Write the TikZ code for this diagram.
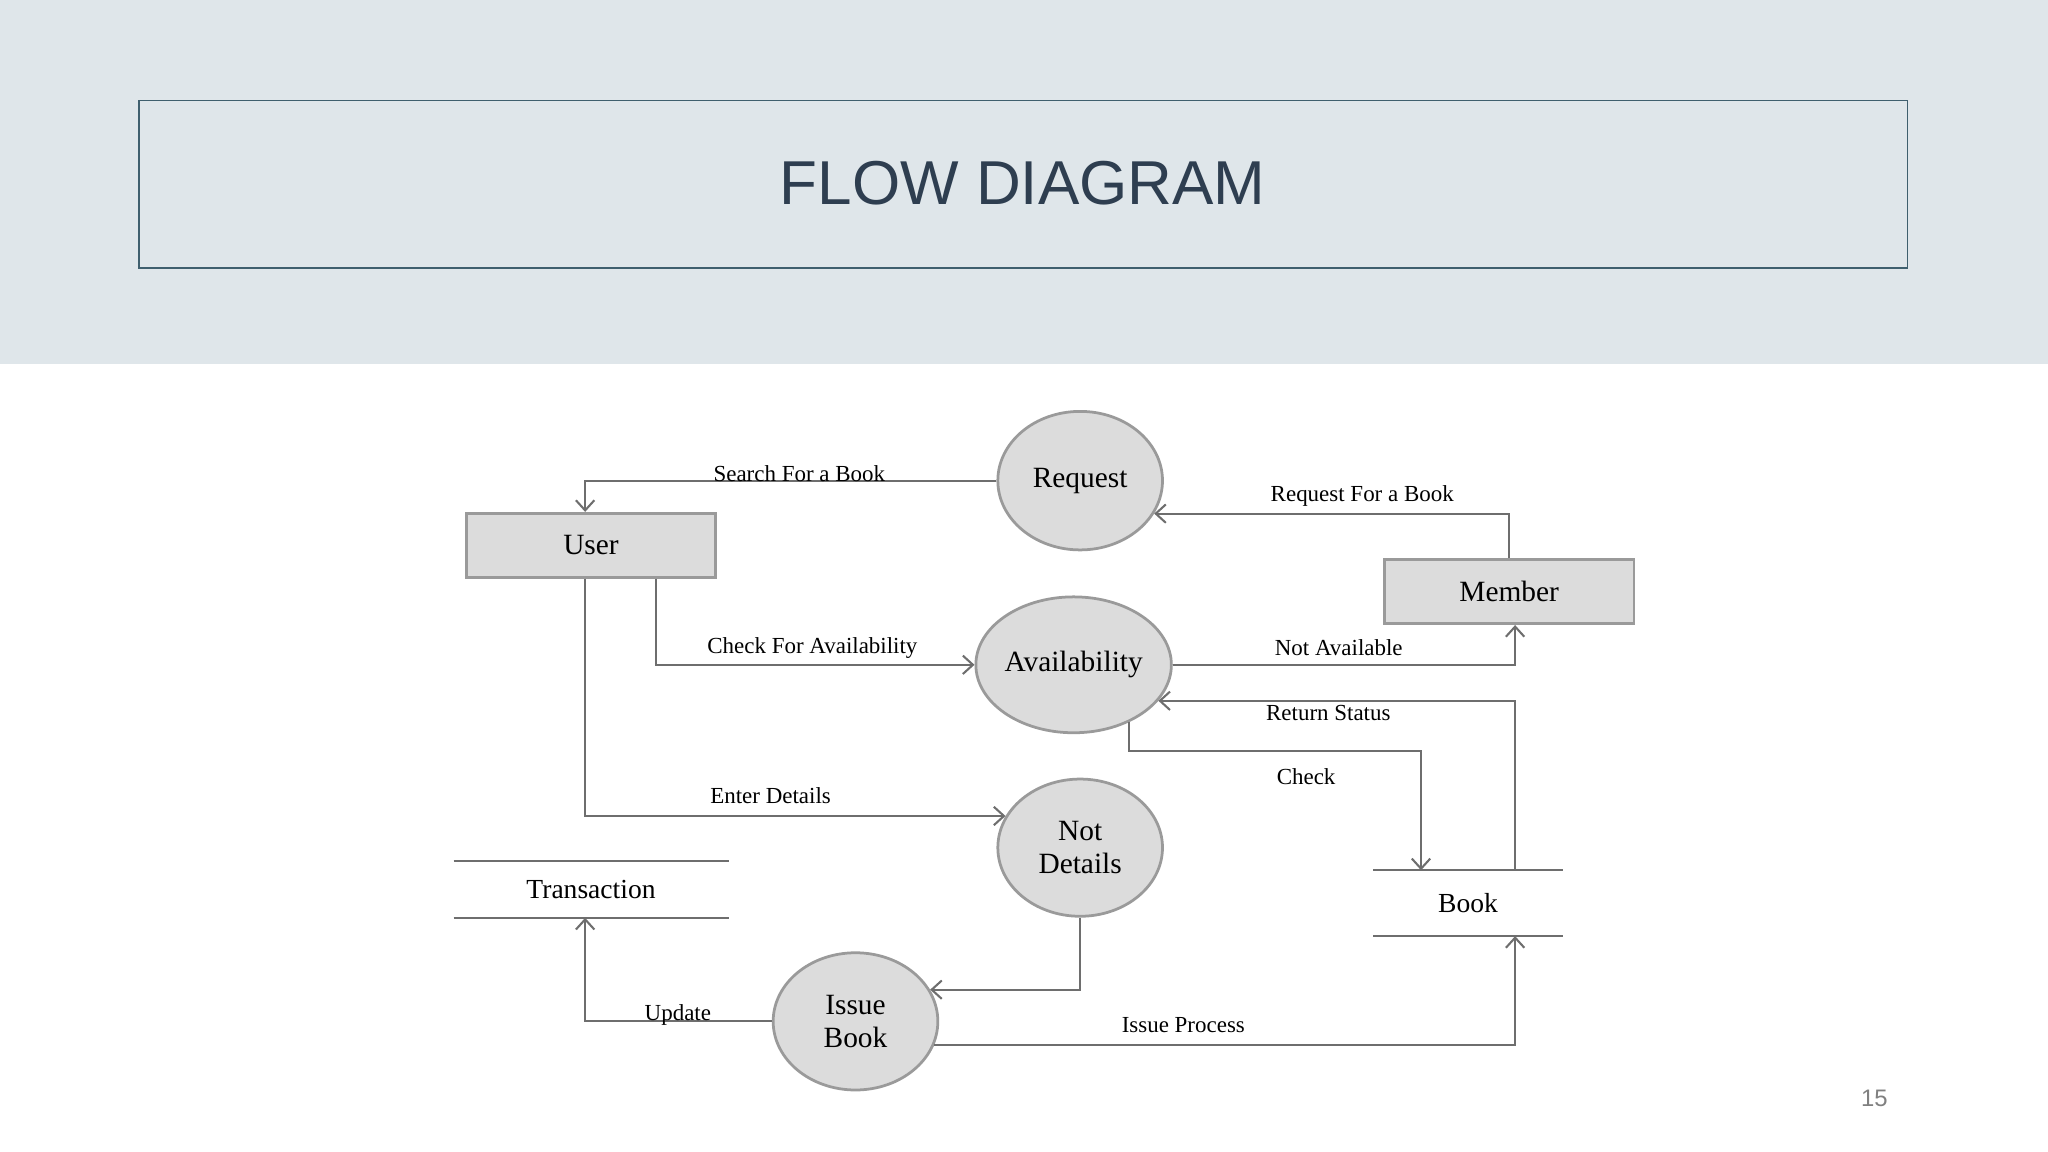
\documentclass[tikz,border=0pt]{standalone}
\usepackage{fontspec}
\setmainfont{Liberation Serif}
\newfontfamily\sansf{Liberation Sans}
\usetikzlibrary{shapes.geometric,arrows.meta}
\definecolor{band}{HTML}{DFE6EA}
\definecolor{boxc}{HTML}{3F5F6E}
\definecolor{titc}{HTML}{2E3E50}
\definecolor{nfill}{HTML}{DCDCDC}
\definecolor{ndraw}{HTML}{9A9A9A}
\definecolor{lc}{HTML}{6E6E6E}
\begin{document}
\begin{tikzpicture}[x=0.01cm,y=-0.01cm,
 proc/.style={ellipse,fill=nfill,draw=ndraw,line width=0.6pt,inner sep=0pt,font=\fontsize{6.4}{7.4}\selectfont,align=center},
 ent/.style={rectangle,fill=nfill,draw=ndraw,line width=0.6pt,minimum width=1.91cm,minimum height=0.49cm,font=\fontsize{6.4}{7.4}\selectfont},
 lab/.style={font=\fontsize{5}{6}\selectfont,inner sep=0pt},
 a/.style={draw=lc,line width=0.45pt,-{Straight Barb[length=2.2pt,width=4pt]}}]
\useasboundingbox (0,0) rectangle (1568,882);
\fill[white] (0,0) rectangle (1568,882);
\fill[band] (0,0) rectangle (1568,279);
\node[draw=boxc,line width=0.4pt,minimum width=13.53cm,minimum height=1.28cm,inner sep=0pt] (title) at (783.5,141) {};
\node[text=titc,font=\sansf\fontsize{13.5}{15}\selectfont] (tt) at (783,140) {FLOW DIAGRAM};
\node[text=gray,font=\sansf\fontsize{5.2}{6}\selectfont] (pg) at (1435,841) {15};
% nodes
\node[proc,minimum width=1.26cm,minimum height=1.06cm] (req) at (827,368) {Request};
\node[proc,minimum width=1.36cm,minimum height=1.04cm] (avail) at (822,509) {Availability};
\node[proc,minimum width=1.26cm,minimum height=1.05cm] (nd) at (827,649) {Not\\[-0.3pt]Details};
\node[proc,minimum width=1.26cm,minimum height=1.05cm] (ib) at (655,782) {Issue\\[-0.3pt]Book};
\node[ent] (user) at (452.5,417.5) {User};
\node[ent] (mem) at (1155.5,453) {Member};
\node[minimum width=2.09cm,minimum height=0.42cm,inner sep=0pt,font=\fontsize{6}{7}\selectfont] (trans) at (452.5,681) {Transaction};
\node[minimum width=1.44cm,minimum height=0.49cm,inner sep=0pt,font=\fontsize{6}{7}\selectfont] (book) at (1124,691.5) {Book};
\draw[lc,line width=0.5pt] (trans.north west)--(trans.north east) (trans.south west)--(trans.south east);
\draw[lc,line width=0.5pt] (book.north west)--(book.north east) (book.south west)--(book.south east);
% connectors
\draw[a] (req.west) -| ([xshift=-0.045cm]user.north);
\draw[a] (mem.north) |- (req.-24);
\draw[a] ([xshift=0.495cm]user.south) |- (avail.west);
\draw[a] (avail.east) -| ([xshift=0.045cm]mem.south);
\draw[a] ([xshift=0.36cm]book.north) |- (avail.-23);
\draw[a] (avail.-46) -- ++(0,22) -| ([xshift=-0.36cm]book.north);
\draw[a] ([xshift=-0.045cm]user.south) |- (nd.157);
\draw[a] (nd.south) |- (ib.23);
\draw[a] (ib.west) -| ([xshift=-0.045cm]trans.south);
\draw[a] (ib.-17) -| ([xshift=0.36cm]book.south);
% labels
\node[lab] (l1) at (612,363) {Search For a Book};
\node[lab] (l2) at (1043,380) {Request For a Book};
\node[lab] (l3) at (622,496) {Check For Availability};
\node[lab] (l4) at (1025,496) {Not Available};
\node[lab] (l5) at (1017,546) {Return Status};
\node[lab] (l6) at (1000,595) {Check};
\node[lab] (l7) at (590,609) {Enter Details};
\node[lab] (l8) at (519,777) {Update};
\node[lab] (l9) at (906,785) {Issue Process};
\end{tikzpicture}
\end{document}
